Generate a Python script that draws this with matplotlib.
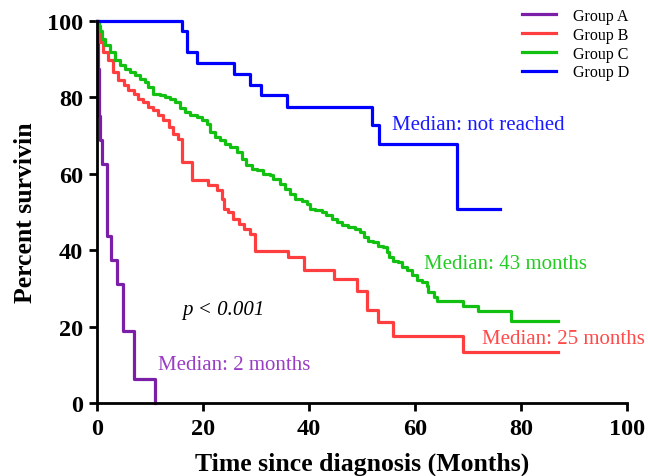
import matplotlib
matplotlib.use('Agg')
import matplotlib.pyplot as plt

plt.rcParams['font.family'] = ['Liberation Serif', 'DejaVu Serif']

# Kaplan-Meier step data (months, percent surviving)
time_a = [0, 0.1, 0.3, 0.5, 0.9, 1.9, 2.7, 3.8, 4.9, 7.0, 10.9]
surv_a = [100, 87.5, 75, 68.75, 62.5, 43.75, 37.5, 31.25, 18.75, 6.25, 0]

time_b = [0, 0.3, 0.6, 1.2, 2.1, 3.1, 4.0, 5.0, 5.9, 6.9,
          7.8, 8.7, 9.7, 10.6, 11.6, 12.5, 13.5, 14.4, 15.3, 16.1,
          17.9, 21.0, 22.6, 23.5, 24.0, 24.8, 25.7, 26.7, 27.8, 28.9,
          29.8, 36.0, 39.0, 44.8, 49.0, 50.9, 53.1, 55.8, 69.0, 86.9]
surv_b = [100, 97.3, 94.5, 91.9, 89.7, 86.7, 84.5, 83.2, 81.9, 81.0,
          79.7, 78.8, 77.5, 76.6, 75.3, 74.0, 72.3, 70.5, 69.2, 63.1,
          58.3, 57.0, 55.7, 53.5, 50.9, 50.0, 48.2, 46.9, 45.6, 44.3,
          39.9, 38.2, 34.7, 32.5, 29.4, 24.4, 21.1, 17.5, 13.4, 13.4]

time_c = [0, 0.3, 0.6, 0.9, 1.5, 2.4, 3.4, 4.3, 5.3, 6.2,
          7.2, 8.1, 9.1, 9.7, 10.6, 11.9, 12.8, 13.8, 14.7, 15.7,
          16.6, 17.5, 18.8, 19.8, 20.7, 21.3, 22.3, 23.2, 24.2, 25.1,
          26.4, 27.3, 28.2, 29.2, 30.1, 31.4, 32.6, 33.3, 34.5, 35.5,
          36.4, 37.4, 38.6, 39.6, 40.2, 41.1, 42.4, 43.3, 44.3, 45.2,
          46.2, 47.4, 48.7, 49.6, 50.3, 51.2, 52.1, 53.1, 54.0, 54.7,
          55.0, 55.9, 56.8, 57.5, 58.4, 59.4, 60.3, 61.3, 62.2, 62.5,
          63.5, 64.1, 69.1, 71.9, 78.2, 87.0]
surv_c = [100, 98.8, 97.5, 95.4, 93.7, 91.9, 89.7, 88.4, 87.5, 86.7,
          85.8, 84.9, 84.1, 82.8, 81.0, 80.6, 80.1, 79.7, 78.8, 77.1,
          76.2, 75.3, 74.9, 74.0, 73.1, 71.0, 69.6, 68.8, 67.9, 67.0,
          65.7, 64.0, 62.2, 61.3, 60.9, 60.0, 59.6, 58.7, 57.4, 56.1,
          54.8, 53.5, 53.0, 52.2, 50.9, 50.4, 50.0, 49.1, 48.2, 47.4,
          46.5, 46.1, 45.6, 44.7, 43.4, 42.5, 42.1, 41.2, 40.8, 39.5,
          38.2, 37.3, 36.9, 35.6, 34.7, 33.4, 32.1, 31.6, 30.7, 29.0,
          27.7, 26.8, 25.5, 24.2, 21.6, 21.6]

time_d = [0, 16.0, 16.9, 18.8, 25.9, 28.9, 30.9, 35.9, 51.8, 53.3, 67.9, 76.0]
surv_d = [100, 97.3, 92.0, 89.1, 86.1, 83.3, 80.5, 77.6, 72.9, 67.7, 50.7, 50.7]

groups = ['Group A', 'Group B', 'Group C', 'Group D']
colors = ['#7B1FA8', '#FF3F3F', '#12C012', '#0000FF']
medians = ['Median: 2 months', 'Median: 25 months',
           'Median: 43 months', 'Median: not reached']
text_colors = ['#9A3DC4', '#FF4A4A', '#22CC22', '#1A1AFF']
# where the median labels sit (data coords)
label_pos = [(11.6, 10.2), (72.6, 17.0), (61.7, 36.4), (55.6, 72.9)]

fig = plt.figure(figsize=(6.48, 4.77), dpi=100)
ax = fig.add_axes([0.1497, 0.1530, 0.8179, 0.8009])

curves = [(time_a, surv_a), (time_b, surv_b), (time_c, surv_c), (time_d, surv_d)]
for (t, s), name, c in zip(curves, groups, colors):
    ax.step(t, s, where='post', color=c, lw=2.3, label=name, clip_on=False)

for txt, c, (x, y) in zip(medians, text_colors, label_pos):
    ax.text(x, y, txt, color=c, fontsize=15, ha='left', va='center')

ax.text(16.0, 24.6, 'p < 0.001', fontsize=15, style='italic',
        ha='left', va='center')

ax.set_xlim(0, 100)
ax.set_ylim(0, 100)
ax.set_xticks([0, 20, 40, 60, 80, 100])
ax.set_yticks([0, 20, 40, 60, 80, 100])
for side in ['top', 'right']:
    ax.spines[side].set_visible(False)
for side in ['left', 'bottom']:
    ax.spines[side].set_linewidth(2.0)
ax.tick_params(axis='both', direction='out', length=6, width=2.0,
               labelsize=17.5)
ax.tick_params(axis='x', pad=5)
ax.tick_params(axis='y', pad=4)
for lab in ax.get_xticklabels() + ax.get_yticklabels():
    lab.set_fontweight('bold')

ax.set_xlabel('Time since diagnosis (Months)', fontsize=18.5,
              fontweight='bold', labelpad=9)
ax.set_ylabel('Percent survivin', fontsize=18.5, fontweight='bold',
              labelpad=7)

ax.legend(loc='upper right', bbox_to_anchor=(0.985, 1.0),
          bbox_transform=fig.transFigure, frameon=False, fontsize=11.5,
          handlelength=2.1, handletextpad=1.1, labelspacing=0.18,
          borderaxespad=0.15)

fig.savefig('out.png', dpi=100)
